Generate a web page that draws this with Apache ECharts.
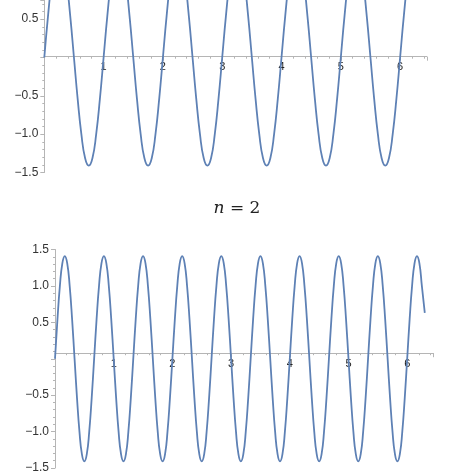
<!DOCTYPE html>
<html><head><meta charset="utf-8">
<script src="https://cdn.jsdelivr.net/npm/echarts@6/dist/echarts.min.js"></script>
<style>html,body{margin:0;padding:0;background:#fff}#c{width:474px;height:474px}</style>
</head><body><div id="c"></div>
<script>
// Top panel: samples every 1/16 in x, last point at 6.28
const topY = [
0,0.54,1,1.31,1.41,1.31,1,0.54,0,-0.54,-1,-1.31,-1.41,-1.31,-1,-0.54,
0,0.54,1,1.31,1.41,1.31,1,0.54,0,-0.54,-1,-1.31,-1.41,-1.31,-1,-0.54,
0,0.54,1,1.31,1.41,1.31,1,0.54,0,-0.54,-1,-1.31,-1.41,-1.31,-1,-0.54,
0,0.54,1,1.31,1.41,1.31,1,0.54,0,-0.54,-1,-1.31,-1.41,-1.31,-1,-0.54,
0,0.54,1,1.31,1.41,1.31,1,0.54,0,-0.54,-1,-1.31,-1.41,-1.31,-1,-0.54,
0,0.54,1,1.31,1.41,1.31,1,0.54,0,-0.54,-1,-1.31,-1.41,-1.31,-1,-0.54,
0,0.54,1,1.31,1.41,1.40];
// Bottom panel (n = 2): samples every 1/24 in x, last point at 6.30
const botY = [
0,0.54,1,1.31,1.41,1.31,1,0.54,0,-0.54,-1,-1.31,-1.41,-1.31,-1,-0.54,
0,0.54,1,1.31,1.41,1.31,1,0.54,0,-0.54,-1,-1.31,-1.41,-1.31,-1,-0.54,
0,0.54,1,1.31,1.41,1.31,1,0.54,0,-0.54,-1,-1.31,-1.41,-1.31,-1,-0.54,
0,0.54,1,1.31,1.41,1.31,1,0.54,0,-0.54,-1,-1.31,-1.41,-1.31,-1,-0.54,
0,0.54,1,1.31,1.41,1.31,1,0.54,0,-0.54,-1,-1.31,-1.41,-1.31,-1,-0.54,
0,0.54,1,1.31,1.41,1.31,1,0.54,0,-0.54,-1,-1.31,-1.41,-1.31,-1,-0.54,
0,0.54,1,1.31,1.41,1.31,1,0.54,0,-0.54,-1,-1.31,-1.41,-1.31,-1,-0.54,
0,0.54,1,1.31,1.41,1.31,1,0.54,0,-0.54,-1,-1.31,-1.41,-1.31,-1,-0.54,
0,0.54,1,1.31,1.41,1.31,1,0.54,0,-0.54,-1,-1.31,-1.41,-1.31,-1,-0.54,
0,0.54,1,1.31,1.41,1.31,1,0.63];
const xTicks = [1,2,3,4,5,6];
const title = 'n = 2';

const topX = topY.map((v,i)=> i < topY.length-1 ? i/16 : 6.28);
const botX = botY.map((v,i)=> i < botY.length-1 ? i/24 : 6.30);

const axisCol = '#b5b5b5';
function yFmt(v){ if (Math.abs(v) < 1e-9) return ''; const s = Math.abs(v).toFixed(1); return v < 0 ? '\u2212' + s : s; }
function xFmt(v){ return xTicks.includes(v) ? String(v) : ''; }
function xAxis(i, off){ return {type:'value', gridIndex:i, min:0, max:6.45, interval:1, position:'bottom', offset:off,
  axisLine:{onZero:false, lineStyle:{color:axisCol}}, axisTick:{show:true, length:4, lineStyle:{color:axisCol}},
  minorTick:{show:true, splitNumber:5, length:2, lineStyle:{color:axisCol}},
  axisLabel:{formatter:xFmt, color:'#222', fontSize:11, fontFamily:'Liberation Sans', margin:5, showMaxLabel:false, showMinLabel:false},
  splitLine:{show:false}}; }
function yAxis(i, max){ return {type:'value', gridIndex:i, min:-1.5, max:max, interval:0.5,
  axisLine:{show:true, onZero:false, lineStyle:{color:axisCol}}, axisTick:{show:true, length:4, lineStyle:{color:axisCol}},
  minorTick:{show:true, splitNumber:5, length:2, lineStyle:{color:axisCol}},
  axisLabel:{formatter:yFmt, color:'#333', fontSize:12, fontFamily:'Liberation Sans', margin:6, showMaxLabel: max===1.5},
  splitLine:{show:false}}; }

const chart = echarts.init(document.getElementById('c'), null, {renderer:'canvas'});
chart.setOption({
  animation:false,
  grid:[{left:44.3, top:-1.2, width:382.5, height:173.7},
        {left:55, top:249.5, width:378.6, height:229.5}],
  xAxis:[xAxis(0, -115.8), xAxis(1, -114.8)],
  yAxis:[yAxis(0,0.75), yAxis(1,1.5)],
  graphic:[{type:'text', left:'center', top:200, style:{text:'{i|n} = 2', rich:{i:{fontStyle:'italic', fontFamily:'DejaVu Serif', fontSize:17}}, fontFamily:'DejaVu Serif', fontSize:17, fill:'#222'}}],
  series:[
    {type:'line', xAxisIndex:0, yAxisIndex:0, data:topX.map((x,i)=>[x,topY[i]]), smooth:true, showSymbol:false, clip:true, lineStyle:{color:'#5e81b5', width:1.8}},
    {type:'line', xAxisIndex:1, yAxisIndex:1, data:botX.map((x,i)=>[x,botY[i]]), smooth:true, showSymbol:false, clip:true, lineStyle:{color:'#5e81b5', width:1.8}}
  ]
});
</script></body></html>
